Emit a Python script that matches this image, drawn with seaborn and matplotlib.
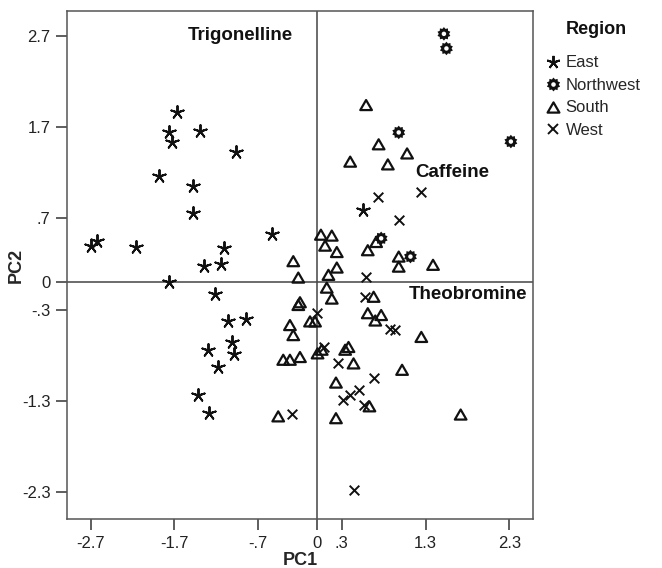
import numpy as np
import pandas as pd
import matplotlib
matplotlib.use("Agg")
import matplotlib.pyplot as plt
import matplotlib.path as mpath
from matplotlib.lines import Line2D
import seaborn as sns

# ---------------- data ----------------
east_pc1 = [-1.67, -1.77, -1.39, -1.73, -0.96, -1.88, -1.48, -1.48, -0.54, -2.70,
            -2.62, -2.16, -1.11, -1.35, -1.14, -1.77, -1.21, -1.06, -0.85, -1.01,
            -1.30, -0.99, -1.18, -1.42, -1.29, 0.55]
east_pc2 = [1.86, 1.65, 1.66, 1.54, 1.43, 1.16, 1.05, 0.76, 0.53, 0.40,
            0.45, 0.39, 0.37, 0.18, 0.20, 0.00, -0.13, -0.43, -0.40, -0.65,
            -0.74, -0.79, -0.93, -1.24, -1.43, 0.79]

northwest_pc1 = [1.52, 1.55, 0.98, 2.32, 0.77, 1.12]
northwest_pc2 = [2.72, 2.56, 1.64, 1.54, 0.48, 0.28]

south_pc1 = [0.59, 0.74, 1.08, 0.40, 0.85, 0.05, 0.18, 0.10, 0.24, -0.28,
             0.24, 0.14, -0.22, 0.12, 0.18, -0.20, -0.22, -0.08, -0.02, -0.32,
             -0.28, 0.06, 0.01, 0.34, 0.38, -0.40, -0.32, -0.20, 0.44, 0.61,
             0.71, 0.98, 0.98, 1.39, 0.68, 0.61, 0.77, 0.70, 1.25, 1.02,
             0.23, 0.63, 0.23, -0.46, 1.72]
south_pc2 = [1.94, 1.51, 1.41, 1.32, 1.29, 0.52, 0.51, 0.40, 0.33, 0.23,
             0.16, 0.08, 0.05, -0.06, -0.18, -0.22, -0.25, -0.43, -0.43, -0.47,
             -0.58, -0.74, -0.78, -0.74, -0.71, -0.85, -0.85, -0.82, -0.89, 0.35,
             0.44, 0.28, 0.17, 0.19, -0.16, -0.34, -0.36, -0.42, -0.60, -0.96,
             -1.10, -1.36, -1.49, -1.47, -1.45]

west_pc1 = [0.73, 1.25, 0.98, 0.59, 0.58, 0.00, 0.09, 0.26, 0.88, 0.93,
            0.69, 0.50, 0.40, 0.31, 0.56, -0.29, 0.45]
west_pc2 = [0.93, 0.99, 0.68, 0.06, -0.16, -0.34, -0.71, -0.89, -0.51, -0.52,
            -1.05, -1.18, -1.24, -1.29, -1.35, -1.44, -2.28]

regions = ["East", "Northwest", "South", "West"]
legend_title = "Region"

x_ticks = [-2.7, -1.7, -0.7, 0, 0.3, 1.3, 2.3]
x_tick_labels = ["-2.7", "-1.7", "-.7", "0", ".3", "1.3", "2.3"]
y_ticks = [2.7, 1.7, 0.7, 0, -0.3, -1.3, -2.3]
y_tick_labels = ["2.7", "1.7", ".7", "0", "-.3", "-1.3", "-2.3"]

loading_labels = ["Trigonelline", "Caffeine", "Theobromine"]
loading_x = [-0.91, 1.62, 1.81]
loading_y = [2.70, 1.20, -0.14]

df = pd.DataFrame({
    "PC1": east_pc1 + northwest_pc1 + south_pc1 + west_pc1,
    "PC2": east_pc2 + northwest_pc2 + south_pc2 + west_pc2,
    "Region": (["East"] * len(east_pc1) + ["Northwest"] * len(northwest_pc1)
               + ["South"] * len(south_pc1) + ["West"] * len(west_pc1)),
})

# ---------------- styling ----------------
sns.set_theme(style="white")
plt.rcParams["font.family"] = ["Liberation Sans", "DejaVu Sans"]

# gear-like marker with a hole for Northwest
n_teeth = 10
ang = np.linspace(0, 2 * np.pi, 2 * n_teeth, endpoint=False) + np.pi / 2
rad = np.where(np.arange(2 * n_teeth) % 2 == 0, 1.0, 0.76)
outer = np.c_[rad * np.cos(ang), rad * np.sin(ang)]
th = np.linspace(0, -2 * np.pi, 24, endpoint=False)
inner = np.c_[0.33 * np.cos(th), 0.33 * np.sin(th)]
verts = np.vstack([outer, outer[:1], inner, inner[:1]])
codes = ([mpath.Path.MOVETO] + [mpath.Path.LINETO] * (len(outer) - 1) + [mpath.Path.CLOSEPOLY]
         + [mpath.Path.MOVETO] + [mpath.Path.LINETO] * (len(inner) - 1) + [mpath.Path.CLOSEPOLY])
gear = mpath.Path(verts, codes)

# equilateral open triangle
tri = mpath.Path([(-0.5, -0.433), (0.5, -0.433), (0.0, 0.433), (-0.5, -0.433)],
                 [mpath.Path.MOVETO, mpath.Path.LINETO, mpath.Path.LINETO, mpath.Path.CLOSEPOLY])

star = (5, 2, 0)
ink = "#111111"

fig = plt.figure(figsize=(6.62, 5.68), dpi=100)
ax = fig.add_axes([0.1017, 0.0863, 0.8047 - 0.1017, 0.9806 - 0.0863])

ax.axvline(0, color="#444444", lw=1.1, zorder=1)
ax.axhline(0, color="#444444", lw=1.1, zorder=1)

styles = {
    "East": dict(marker=star, s=85, color=ink, linewidth=1.4),
    "Northwest": dict(marker=gear, s=95, color=ink, edgecolor="none", linewidth=0),
    "South": dict(marker=tri, s=70, facecolors="none", edgecolor=ink, linewidth=1.6),
    "West": dict(marker="x", s=48, color=ink, linewidth=1.4),
}
for reg in regions:
    sub = df[df["Region"] == reg]
    sns.scatterplot(data=sub, x="PC1", y="PC2", ax=ax, legend=False, zorder=3, **styles[reg])

for lab, lx, ly in zip(loading_labels, loading_x, loading_y):
    ax.text(lx, ly, lab, ha="center", va="center", fontsize=13.5, fontweight="bold", color="#111111")

ax.set_xlim(-2.980, 2.581)
ax.set_ylim(-2.594, 2.970)
ax.set_xticks(x_ticks)
ax.set_xticklabels(x_tick_labels)
ax.set_yticks(y_ticks)
ax.set_yticklabels(y_tick_labels)
ax.tick_params(axis="both", direction="out", length=8, width=1.1, color="#333333",
               labelsize=12, labelcolor="#222222", bottom=True, left=True, pad=4)
for sp in ax.spines.values():
    sp.set_color("#555555")
    sp.set_linewidth(1.1)

ax.set_xlabel("PC1", fontsize=13, fontweight="bold", labelpad=1)
ax.set_ylabel("PC2", fontsize=13, fontweight="bold")
ax.yaxis.set_label_coords(-0.091, 0.5)

handles = [
    Line2D([], [], linestyle="none", marker=star, markersize=9.5, color=ink, markeredgewidth=1.4),
    Line2D([], [], linestyle="none", marker=gear, markersize=10, color=ink, markeredgewidth=0),
    Line2D([], [], linestyle="none", marker=tri, markersize=8.5, markerfacecolor="none",
           markeredgecolor=ink, markeredgewidth=1.6),
    Line2D([], [], linestyle="none", marker="x", markersize=7, color=ink, markeredgewidth=1.4),
]
fig.text(596 / 662, 1 - 30 / 568, legend_title, ha="center", va="center",
         fontsize=13, fontweight="bold", color="#111111")
leg = fig.legend(handles, regions, loc="upper left",
                 bbox_to_anchor=(0.813, 0.917), frameon=False, fontsize=12,
                 handlelength=0.8, handletextpad=0.35, labelspacing=0.45, borderpad=0)

fig.savefig("out.png", dpi=100)
